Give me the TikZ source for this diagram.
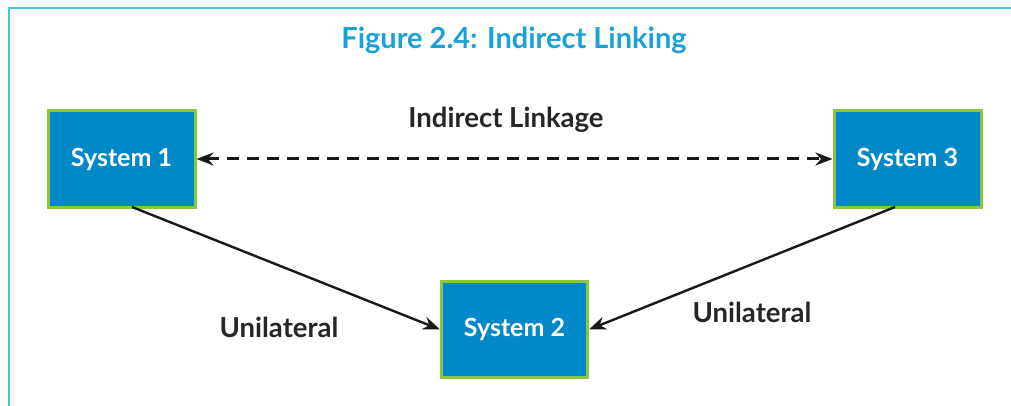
\documentclass[tikz,border=0pt]{standalone}
\usepackage{fontspec}
\setmainfont{Lato}
\usetikzlibrary{arrows.meta}
\definecolor{sysblue}{HTML}{0088C8}
\definecolor{sysgreen}{HTML}{8CC63F}
\definecolor{titleblue}{HTML}{1BA1D6}
\definecolor{frameblue}{HTML}{4DBFE8}
\tikzset{
  sysbox/.style={draw=sysgreen, line width=3pt, fill=sysblue, text=white,
    font=\bfseries\fontsize{25}{30}\selectfont, minimum width=#1, minimum height=96pt, inner sep=0pt},
  sysbox/.default=147pt,
  lbl/.style={font=\bfseries\fontsize{27.5}{32}\selectfont, text=black!85},
  conn/.style={line width=2.4pt, -{Stealth[length=17pt,width=13pt]}, black!90},
}
\begin{document}
\begin{tikzpicture}[x=1pt,y=-1pt]
\useasboundingbox (0,0) rectangle (1011,406);
\draw[frameblue, line width=2pt] (9,406) -- (9,8) -- (1011,8);
\node[font=\bfseries\fontsize{29}{34}\selectfont, text=titleblue] (title) at (514,40) {Figure 2.4: Indirect Linking};
\node[sysbox] (s1) at (121.5,159) {\raisebox{-2pt}{System 1}};
\node[sysbox] (s3) at (907.5,159) {\raisebox{-2pt}{System 3}};
\node[sysbox=146pt] (s2) at (514.5,329.5) {\raisebox{-2pt}{System 2}};
\node[lbl] (il) at (506,120) {Indirect Linkage};
\node[lbl] (u1) at (279,327) {Unilateral};
\node[lbl] (u2) at (752,312) {Unilateral};
\draw[line width=3pt, dash pattern=on 12pt off 8pt, {Stealth[length=17pt,width=13pt]}-{Stealth[length=17pt,width=13pt]}, black!90] (s1.east) -- (s3.west);
\coordinate (a1) at (132,207);
\coordinate (a3) at (895,207);
\draw[conn] (a1) -- (s2.west);
\draw[conn] (a3) -- (s2.east);
\end{tikzpicture}
\end{document}
